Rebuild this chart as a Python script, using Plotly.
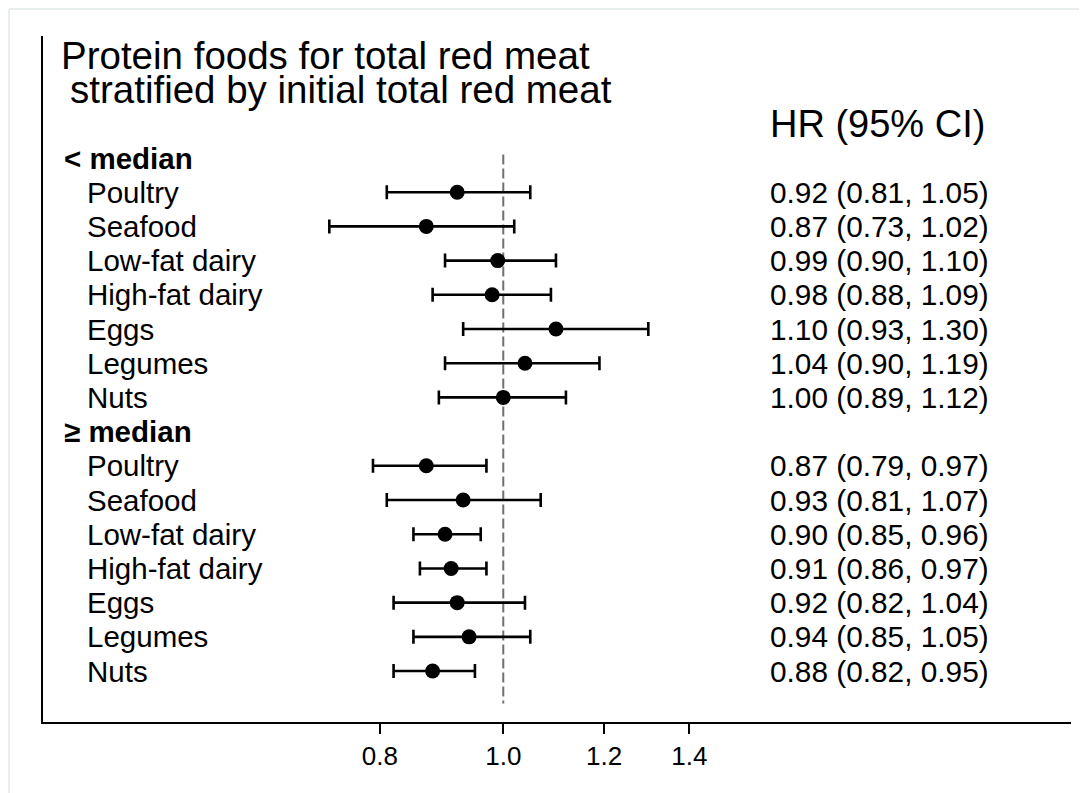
import plotly.graph_objects as go

# ---- data ----
group_labels = ["< median", "≥ median"]
foods = ["Poultry", "Seafood", "Low-fat dairy", "High-fat dairy", "Eggs", "Legumes", "Nuts"]
hr_below = [0.92, 0.87, 0.99, 0.98, 1.10, 1.04, 1.00]
lo_below = [0.81, 0.73, 0.90, 0.88, 0.93, 0.90, 0.89]
hi_below = [1.05, 1.02, 1.10, 1.09, 1.30, 1.19, 1.12]
hr_above = [0.87, 0.93, 0.90, 0.91, 0.92, 0.94, 0.88]
lo_above = [0.79, 0.81, 0.85, 0.86, 0.82, 0.85, 0.82]
hi_above = [0.97, 1.07, 0.96, 0.97, 1.04, 1.05, 0.95]
x_ticks = [0.8, 1.0, 1.2, 1.4]
x_tick_labels = ["0.8", "1.0", "1.2", "1.4"]
title_lines = ["Protein foods for total red meat", "stratified by initial total red meat"]
hr_header = "HR (95% CI)"

FONT = "Liberation Sans, Arial, Helvetica, sans-serif"

# build rows: header row then 7 food rows per group
rows_y, rows_hr, rows_lo, rows_hi, rows_lab = [], [], [], [], []
header_rows = []
pos = 0
for g, (hr, lo, hi) in enumerate([(hr_below, lo_below, hi_below), (hr_above, lo_above, hi_above)]):
    header_rows.append(pos)
    pos += 1
    for k in range(len(foods)):
        rows_y.append(pos)
        rows_hr.append(hr[k])
        rows_lo.append(lo[k])
        rows_hi.append(hi[k])
        rows_lab.append(foods[k])
        pos += 1

fig = go.Figure()
fig.add_trace(go.Scatter(
    x=rows_hr, y=rows_y, mode="markers",
    marker=dict(color="black", size=15),
    error_x=dict(type="data", symmetric=False,
                 array=[h - m for h, m in zip(rows_hi, rows_hr)],
                 arrayminus=[m - l for m, l in zip(rows_hr, rows_lo)],
                 color="black", thickness=2.6, width=7),
    showlegend=False, hoverinfo="skip",
))

# reference line at HR = 1
fig.add_shape(type="line", xref="x", yref="y", x0=1, x1=1, y0=-0.1, y1=15.95,
              line=dict(color="#707070", width=2, dash="10px,4px"), layer="below")

# figure geometry (figure origin sits at page offset 8,8)
FW, FH = 1079, 785
ML, MT, MR, MB = 35, 28, 16, 71
W = FW - ML - MR
H = FH - MT - MB

def px(xp):
    # page x pixel -> paper x
    return (xp - 8 - ML) / W

annotations = []
annotations.append(dict(text=title_lines[0], x=px(59), y=-3.0, xref="paper", yref="y",
                        xanchor="left", yanchor="middle", showarrow=False,
                        font=dict(size=38.5, color="black", family=FONT)))
annotations.append(dict(text=title_lines[1], x=px(68), y=-2.0, xref="paper", yref="y",
                        xanchor="left", yanchor="middle", showarrow=False,
                        font=dict(size=38.5, color="black", family=FONT)))
annotations.append(dict(text=hr_header, x=px(768), y=-1.0, xref="paper", yref="y",
                        xanchor="left", yanchor="middle", showarrow=False,
                        font=dict(size=38, color="black", family=FONT)))
for hrow, glab in zip(header_rows, group_labels):
    annotations.append(dict(text="<b>" + glab + "</b>", x=px(62), y=hrow, xref="paper", yref="y",
                            xanchor="left", yanchor="middle", showarrow=False,
                            font=dict(size=29.5, color="black", family=FONT)))
for yv, lab, h, lo, hi in zip(rows_y, rows_lab, rows_hr, rows_lo, rows_hi):
    annotations.append(dict(text=lab, x=px(85), y=yv, xref="paper", yref="y",
                            xanchor="left", yanchor="middle", showarrow=False,
                            font=dict(size=29.5, color="black", family=FONT)))
    annotations.append(dict(text=f"{h:.2f} ({lo:.2f}, {hi:.2f})", x=px(768), y=yv,
                            xref="paper", yref="y", xanchor="left", yanchor="middle",
                            showarrow=False, font=dict(size=29.8, color="black", family=FONT)))

# faint outer border (top and left edges of the figure)
top_y = 1 + (MT - 1) / H
left_x = -(ML - 1) / W
fig.add_shape(type="line", xref="paper", yref="paper", x0=left_x, x1=1 + MR / W,
              y0=top_y, y1=top_y, line=dict(color="#e8eeee", width=2))
fig.add_shape(type="line", xref="paper", yref="paper", x0=left_x, x1=left_x,
              y0=top_y, y1=-MB / H, line=dict(color="#e8eeee", width=2))

fig.update_layout(
    width=FW, height=FH,
    margin=dict(l=ML, r=MR, t=MT, b=MB),
    paper_bgcolor="white", plot_bgcolor="white",
    annotations=annotations,
    xaxis=dict(type="log", range=[-0.3616, 0.4460],
               tickvals=x_ticks, ticktext=x_tick_labels,
               ticks="outside", ticklen=10, tickwidth=2, tickcolor="black",
               showline=True, linecolor="black", linewidth=2,
               showgrid=False, zeroline=False,
               tickfont=dict(size=26, color="black", family=FONT)),
    yaxis=dict(range=[16.49, -3.567], showline=True, linecolor="black", linewidth=2,
               showticklabels=False, ticks="", showgrid=False, zeroline=False),
    font=dict(family=FONT, color="black"),
)

fig.write_html("out.html")
